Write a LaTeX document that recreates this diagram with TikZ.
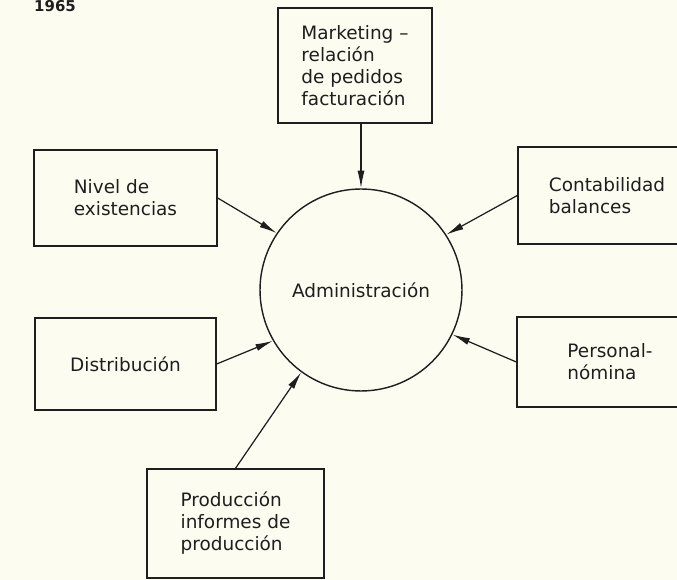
\documentclass[tikz,border=0pt]{standalone}
\usepackage{fontspec}
\setmainfont{DejaVu Sans}
\usetikzlibrary{arrows.meta}
\definecolor{paper}{RGB}{253,252,241}
\definecolor{ink}{RGB}{30,30,30}
\begin{document}
\begin{tikzpicture}[
            x=0.02cm,y=-0.02cm,
            every node/.style={
                font=\fontsize{10.5}{12.5}\selectfont,
                text=ink,inner sep=0pt
            },
            box/.style={
                draw=ink,rectangle,line width=0.8pt,align=left
            },
            arr/.style={
                draw=ink,line width=0.7pt,-{Latex[length=10pt,width=4pt]}
            }
        ]
    % Page
        \useasboundingbox (0,0) rectangle (677,580);
        \fill[paper] (0,0) rectangle (677,580);
        \clip (0,0) rectangle (677,580);
        \node (year) at (55,6) {\fontsize{8.5}{9}\selectfont\bfseries 1965};
    % Centre
        \node[draw=ink,circle,line width=0.8pt,minimum size=4.04cm] (adm) at (361,290) {Administración};
    % Boxes
        \node[box,minimum width=3.08cm,minimum height=2.3cm] (mkt) at (355,65.5)
            {Marketing --\\relación\\de pedidos\\facturación};
        \node[box,minimum width=3.66cm,minimum height=1.92cm] (niv) at (125.5,198)
            {Nivel de\\existencias};
        \node[box,minimum width=3.56cm,minimum height=1.94cm] (cont) at (607,195.5)
            {Contabilidad\\balances};
        \node[box,minimum width=3.62cm,minimum height=1.84cm] (dist) at (125.5,364)
            {Distribución};
        \node[box,minimum width=3.72cm,minimum height=1.8cm] (pers) at (610,362)
            {Personal-\\nómina};
        \node[box,minimum width=3.54cm,minimum height=2.18cm] (prod) at (235.5,523.5)
            {Producción\\informes de\\producción};
    % Arrows
        \draw[arr] (adm.north |- mkt.south) -- (adm.north);
    \foreach \src/\anc/\ang in {niv/east/146,cont/west/33,dist/east/210,pers/west/334,prod/north/234}{
        \draw[arr] (\src.\anc) -- (adm.\ang);
    }
    \end{tikzpicture}
\end{document}
